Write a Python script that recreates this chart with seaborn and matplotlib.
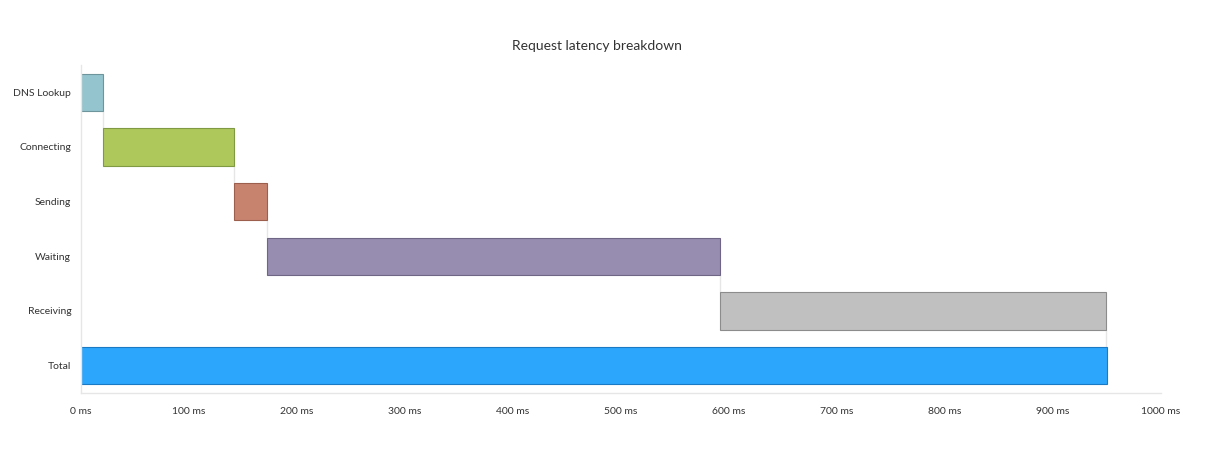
import numpy as np
import pandas as pd
import matplotlib
matplotlib.use("Agg")
import matplotlib.pyplot as plt
import seaborn as sns

# dados do gráfico (ms)
fases = ["DNS Lookup", "Connecting", "Sending", "Waiting", "Receiving", "Total"]
inicio = [0, 20, 142, 172, 592, 0]
fim = [20, 142, 172, 592, 949, 950]
cores = ["#94c4cd", "#aec85c", "#c8836f", "#978db0", "#c0c0c0", "#2ca6fd"]
bordas = ["#6f959c", "#7f9a43", "#9c5f4e", "#6f6685", "#8c8c8c", "#1a7bc4"]
ticks_x = [0, 100, 200, 300, 400, 500, 600, 700, 800, 900, 1000]

df = pd.DataFrame({"fase": fases, "inicio": inicio, "fim": fim})
df["duracao"] = df["fim"] - df["inicio"]

sns.set_style("white")
plt.rcParams["font.family"] = ["Lato", "DejaVu Sans"]

fig = plt.figure(figsize=(12.15, 4.5), dpi=100)
ax = fig.add_axes([81 / 1215, 1 - 393 / 450, 1080 / 1215, 328 / 450])

sns.barplot(data=df, x="duracao", y="fase", left=df["inicio"].values,
            color="#999999", width=0.68, linewidth=0.8, ax=ax)
for p, fc, ec in zip(ax.patches, cores, bordas):
    p.set_facecolor(fc)
    p.set_edgecolor(ec)

# linhas de ligação entre as barras
for i in range(len(fases) - 1):
    x = fim[i]
    ax.plot([x, x], [i + 0.34, i + 1 - 0.34], color="#e6e6e6", lw=1, zorder=0)

ax.set_xlim(0, 1000)
ax.set_ylim(len(fases) - 0.5, -0.5)
ax.set_xticks(ticks_x)
ax.set_xticklabels([f"{t} ms" for t in ticks_x])
ax.set_yticks(np.arange(-0.5, len(fases)), minor=True)
ax.set_xlabel("")
ax.set_ylabel("")

for s in ["top", "right"]:
    ax.spines[s].set_visible(False)
for s in ["left", "bottom"]:
    ax.spines[s].set_color("#e6e6e6")
    ax.spines[s].set_linewidth(1)

ax.tick_params(axis="y", which="major", length=0, pad=7, labelsize=7.5, labelcolor="#333333")
ax.tick_params(axis="y", which="minor", length=4, color="#e0e0e0", width=1)
ax.tick_params(axis="x", length=4, color="#e6e6e6", width=1, pad=6, labelsize=7.5,
               labelcolor="#333333")

fig.text(597 / 1215, 1 - 46 / 450, "Request latency breakdown", ha="center", va="center",
         fontsize=10, color="#333333")

fig.savefig("out.png", dpi=100, facecolor="white")
